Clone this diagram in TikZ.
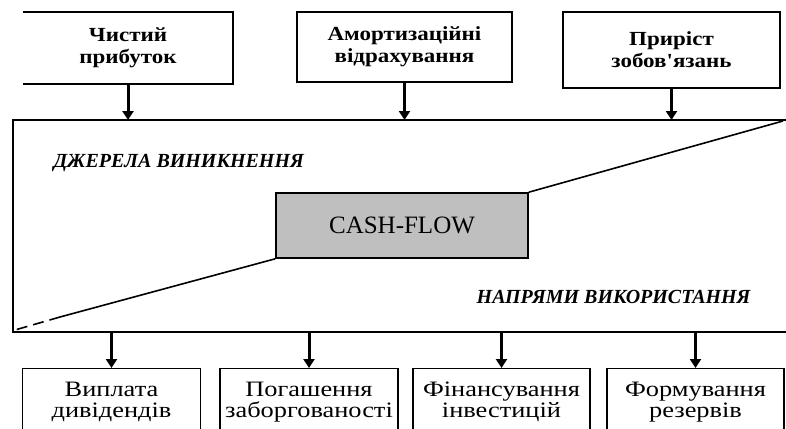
\documentclass[tikz,border=0pt]{standalone}
\usepackage{fontspec}
\setmainfont{Liberation Serif}
\newfontfamily\widefont[FakeStretch=1.15]{Liberation Serif}
\newfontfamily\botfont[FakeStretch=1.2]{Liberation Serif}
\usetikzlibrary{arrows.meta}
\tikzset{
  topbox/.style={align=center, inner sep=0pt, font=\widefont\bfseries\fontsize{20}{22}\selectfont},
  botbox/.style={draw, line width=1.2pt, align=center, anchor=north, inner ysep=13pt,
    minimum height=60pt, font=\botfont\fontsize{22}{21}\selectfont},
  flow/.style={line width=3pt, -{Triangle[width=11pt,length=9pt]}},
  frameline/.style={line width=2.4pt},
  sidetext/.style={font=\bfseries\itshape\fontsize{20}{22}\selectfont},
}
\begin{document}
\begin{tikzpicture}[x=1pt,y=-1pt]
        \useasboundingbox (0,0) rectangle (786,428);
        \clip (0,0) rectangle (786,428);
        % sources
        \node[topbox, minimum width=210pt, minimum height=72pt] (prybutok) at (128,48) {Чистий\\прибуток};
        \node[topbox, minimum width=215pt, minimum height=70pt] (amort) at (404.5,47) {Амортизаційні\\відрахування};
        \node[topbox, minimum width=217pt, minimum height=76pt] (zobov) at (671.5,50) {Приріст\\зобов'язань};
        \draw[frameline] (prybutok.north west) -- (prybutok.north east) -- (prybutok.south east) -- (prybutok.south west);
        \draw[frameline] (amort.north west) rectangle (amort.south east);
        \draw[frameline] (zobov.north west) rectangle (zobov.south east);
        % frame
        \coordinate (fnw) at (13,120);
        \coordinate (fsw) at (13,332);
        \coordinate (fne) at (786,120);
        \coordinate (fse) at (786,332);
        \draw[frameline] (fne) -- (fnw) -- (fsw) -- (fse);
        \draw[flow] (prybutok) -- (prybutok |- fnw);
        \draw[flow] (amort) -- (amort |- fnw);
        \draw[flow] (zobov) -- (zobov |- fnw);
        % cash-flow
        \node[draw, line width=1.6pt, fill=black!25, minimum width=252pt, minimum height=65pt,
          font=\fontsize{25}{27}\selectfont] (cash) at (402,225.5) {CASH-FLOW};
        \coordinate (dl) at (15,330);
        \coordinate (dm) at (60,317);
        \coordinate (dr) at (783,121);
        \draw[line width=1.6pt] (cash.south west) -- (dm);
        \draw[line width=1.6pt, dash pattern=on 11pt off 6pt] (dm) -- (dl);
        \draw[line width=1.6pt] (cash.north east) -- (dr);
        \node[sidetext, anchor=west] (dzherela) at (50,163) {ДЖЕРЕЛА ВИНИКНЕННЯ};
        \node[sidetext, anchor=east] (napryamy) at (754,297) {НАПРЯМИ ВИКОРИСТАННЯ};
        % uses
        \node[botbox, minimum width=178pt] (vyplata) at (111.5,368) {Виплата\\дивідендів};
        \node[botbox, minimum width=178pt] (pogash) at (309,368) {Погашення\\заборгованості};
        \node[botbox, minimum width=177pt] (finans) at (501.5,368) {Фінансування\\інвестицій};
        \node[botbox, minimum width=177pt] (formuv) at (695.5,368) {Формування\\резервів};
        \draw[flow] (vyplata |- fsw) -- (vyplata);
        \draw[flow] (pogash |- fsw) -- (pogash);
        \draw[flow] (finans |- fsw) -- (finans);
        \draw[flow] (formuv |- fsw) -- (formuv);
\end{tikzpicture}
\end{document}
